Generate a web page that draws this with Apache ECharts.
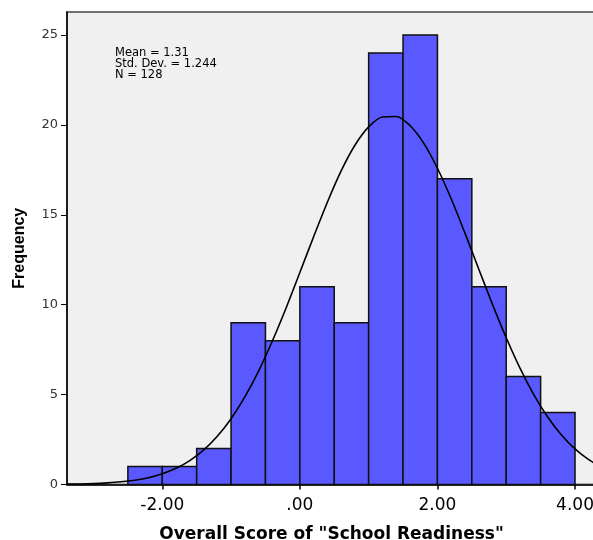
<!DOCTYPE html>
<html>
<head>
<meta charset="utf-8">
<script src="https://cdn.jsdelivr.net/npm/echarts@6/dist/echarts.min.js"></script>
<style>
  html, body { margin: 0; padding: 0; background: #fff; }
  #chart { width: 593px; height: 540px; }
</style>
</head>
<body>
<div id="chart"></div>
<script>
// histogram bins (lower edge, upper edge) and counts
var binStart = [-2.5, -2.0, -1.5, -1.0, -0.5, 0.0, 0.5, 1.0, 1.5, 2.0, 2.5, 3.0, 3.5]
var binEnd = [-2.0, -1.5, -1.0, -0.5, 0.0, 0.5, 1.0, 1.5, 2.0, 2.5, 3.0, 3.5, 4.0]
var counts = [1, 1, 2, 9, 8, 11, 9, 24, 25, 17, 11, 6, 4]

// normal curve
var curveX = [-3.4, -3.2, -3.0, -2.8, -2.6, -2.4, -2.2, -2.0, -1.8, -1.6, -1.4, -1.2, -1.0, -0.8, -0.6, -0.4, -0.2,
  0.0, 0.2, 0.4, 0.6, 0.8, 1.0, 1.2, 1.4, 1.6, 1.8, 2.0, 2.2, 2.4, 2.6, 2.8, 3.0, 3.2, 3.4, 3.6, 3.8, 4.0, 4.2, 4.4]
var curveY = [0.02, 0.03, 0.05, 0.09, 0.15, 0.24, 0.38, 0.60, 0.90, 1.33, 1.91, 2.68, 3.66, 4.87, 6.31, 7.98, 9.82,
  11.79, 13.78, 15.70, 17.44, 18.87, 19.89, 20.44, 20.47, 19.97, 18.99, 17.59, 15.89, 13.98, 11.99, 10.02, 8.16,
  6.47, 5.00, 3.77, 2.77, 1.98, 1.38, 0.94]

var xTicks = [-2, 0, 2, 4]
var xTickLabels = ['-2.00', '.00', '2.00', '4.00']
var yTicks = [0, 5, 10, 15, 20, 25]

var statsLines = ['Mean = 1.31', 'Std. Dev. = 1.244', 'N = 128']

var font = '"DejaVu Sans", Verdana, sans-serif'
var arial = '"Liberation Sans", Arial, sans-serif'
var chart = echarts.init(document.getElementById('chart'))

var barData = binStart.map(function (s, i) { return [s, binEnd[i], counts[i]] })
var lineData = curveX.map(function (x, i) { return [x, curveY[i]] })

chart.setOption({
  animation: false,
  backgroundColor: '#fff',
  grid: {
    left: 67, top: 12, right: -3, bottom: 55.5,
    outerBoundsMode: 'none',
    show: true,
    backgroundColor: '#f0f0f0',
    borderColor: '#707070',
    borderWidth: 2
  },
  xAxis: {
    type: 'value',
    min: -3.385,
    max: 4.305,
    name: 'Overall Score of "School Readiness"',
    nameLocation: 'middle',
    nameGap: 42,
    nameTextStyle: { fontFamily: font, fontSize: 17, fontWeight: 'bold', color: '#000' },
    splitLine: { show: false },
    axisLine: { onZero: false, lineStyle: { color: '#000', width: 1.5 } },
    axisTick: { customValues: xTicks, length: 5, lineStyle: { color: '#000', width: 1.5 } },
    axisLabel: {
      customValues: xTicks,
      margin: 13,
      fontFamily: font,
      fontSize: 17,
      color: '#000',
      formatter: function (v) { return xTickLabels[xTicks.indexOf(v)] }
    }
  },
  yAxis: {
    type: 'value',
    min: 0,
    max: 26.28,
    name: 'Frequency',
    nameLocation: 'middle',
    nameGap: 39,
    nameTextStyle: { fontFamily: arial, fontSize: 16, fontWeight: 'bold', color: '#000' },
    splitLine: { show: false },
    axisLine: { show: true, onZero: false, lineStyle: { color: '#000', width: 1.5 } },
    axisTick: { show: true, customValues: yTicks, length: 6, lineStyle: { color: '#000', width: 1 } },
    axisLabel: { customValues: yTicks, margin: 9, fontFamily: font, fontSize: 13, color: '#333' }
  },
  graphic: [{
    type: 'text',
    left: 115,
    top: 47,
    style: {
      text: statsLines.join('\n'),
      font: '11.5px ' + font,
      lineHeight: 11,
      fill: '#000'
    }
  }],
  series: [{
    type: 'custom',
    data: barData,
    encode: { x: [0, 1], y: 2 },
    renderItem: function (params, api) {
      var p0 = api.coord([api.value(0), api.value(2)])
      var p1 = api.coord([api.value(1), 0])
      return {
        type: 'rect',
        shape: { x: p0[0], y: p0[1], width: p1[0] - p0[0], height: p1[1] - p0[1] },
        style: { fill: '#5959ff', stroke: '#111', lineWidth: 1.5 }
      }
    }
  }, {
    type: 'line',
    data: lineData,
    smooth: 0.3,
    showSymbol: false,
    clip: true,
    lineStyle: { color: '#000', width: 1.6 }
  }]
})
</script>
</body>
</html>
